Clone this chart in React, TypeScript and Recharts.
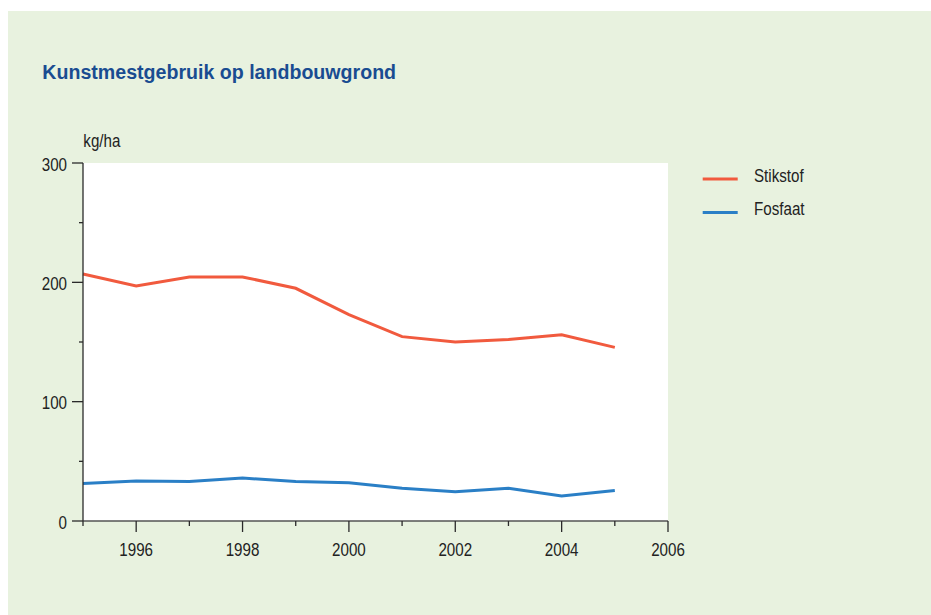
import React from "react";
import { LineChart, Line, XAxis, YAxis, CartesianGrid } from "recharts";

const years = [1995, 1996, 1997, 1998, 1999, 2000, 2001, 2002, 2003, 2004, 2005];
const stikstof = [207, 197, 204.5, 204.5, 195, 173, 154.5, 150, 152, 156, 145.5];
const fosfaat = [31.5, 33.5, 33, 36, 33, 32, 27.5, 24.5, 27.5, 21, 25.5];
const yTicks = [0, 50, 100, 150, 200, 250, 300];
const xTicks = [1995, 1996, 1997, 1998, 1999, 2000, 2001, 2002, 2003, 2004, 2005, 2006];
const seriesKeys = ["stikstof", "fosfaat"];
const seriesNames = ["Stikstof", "Fosfaat"];
const seriesColors = ["#f15a3e", "#2a7fc6"];
const title = "Kunstmestgebruik op landbouwgrond";
const unitLabel = "kg/ha";

const data = years.map((year, i) => ({ year, stikstof: stikstof[i], fosfaat: fosfaat[i] }));

const FONT = "'Liberation Sans', Arial, sans-serif";
const AXIS = "#2a2a2a";
const SQX = 0.82;

const NarrowText = ({ x, y, anchor = "start", children }: any) => (
  <text
    transform={`translate(${x},${y}) scale(${SQX},1)`}
    textAnchor={anchor}
    fontFamily={FONT}
    fontSize={18.5}
    fill="#222"
  >
    {children}
  </text>
);

const YTick = (props: any) => {
  const { x, y, payload } = props;
  const v = payload.value;
  const major = v % 100 === 0;
  return (
    <g>
      <line x1={x - (major ? 11 : 4)} x2={x} y1={y} y2={y} stroke={AXIS} strokeWidth={1.3} />
      {major && (
        <NarrowText x={x - 16} y={y + 7.5} anchor="end">
          {v}
        </NarrowText>
      )}
    </g>
  );
};

const XTick = (props: any) => {
  const { x, y, payload } = props;
  const v = payload.value;
  const major = v % 2 === 0;
  return (
    <g>
      <line x1={x} x2={x} y1={y} y2={y + (major ? 11 : 5)} stroke={AXIS} strokeWidth={1.3} />
      {major && (
        <NarrowText x={x} y={y + 34.5} anchor="middle">
          {v}
        </NarrowText>
      )}
    </g>
  );
};

export default function App() {
  return (
    <div
      style={{
        position: "absolute",
        left: 8,
        top: 11,
        width: 923,
        height: 604,
        background: "#e8f2df",
        overflow: "hidden",
      }}
    >
      <svg width={923} height={604} style={{ position: "absolute", left: 0, top: 0 }}>
        <text x={34.3} y={68} fontFamily={FONT} fontWeight="bold" fontSize={19.6} fill="#194c91">
          {title}
        </text>
        <NarrowText x={75.3} y={136.3}>
          {unitLabel}
        </NarrowText>
        {seriesNames.map((name, i) => (
          <g key={name}>
            <line
              x1={694.7}
              x2={729.7}
              y1={168 + i * 33.5}
              y2={168 + i * 33.5}
              stroke={seriesColors[i]}
              strokeWidth={3}
            />
            <NarrowText x={746} y={170.5 + i * 33.5}>
              {name}
            </NarrowText>
          </g>
        ))}
      </svg>
      <div style={{ position: "absolute", left: 0, top: 0 }}>
        <LineChart
          width={923}
          height={604}
          data={data}
          margin={{ top: 152, right: 263, bottom: 54, left: 0 }}
        >
          <CartesianGrid horizontal={false} vertical={false} fill="#ffffff" stroke="none" />
          <XAxis
            dataKey="year"
            type="number"
            domain={[1995, 2006]}
            ticks={xTicks}
            interval={0}
            height={40}
            tickSize={0}
            tickMargin={0}
            tickLine={false}
            axisLine={{ stroke: "#555", strokeWidth: 1.3 }}
            tick={<XTick />}
          />
          <YAxis
            type="number"
            domain={[0, 300]}
            ticks={yTicks}
            interval={0}
            width={75}
            tickSize={0}
            tickMargin={0}
            tickLine={false}
            axisLine={{ stroke: AXIS, strokeWidth: 1.3 }}
            tick={<YTick />}
          />
          {seriesKeys.map((k, i) => (
            <Line
              key={k}
              dataKey={k}
              name={seriesNames[i]}
              stroke={seriesColors[i]}
              strokeWidth={3}
              dot={false}
              type="linear"
              isAnimationActive={false}
            />
          ))}
        </LineChart>
      </div>
    </div>
  );
}
